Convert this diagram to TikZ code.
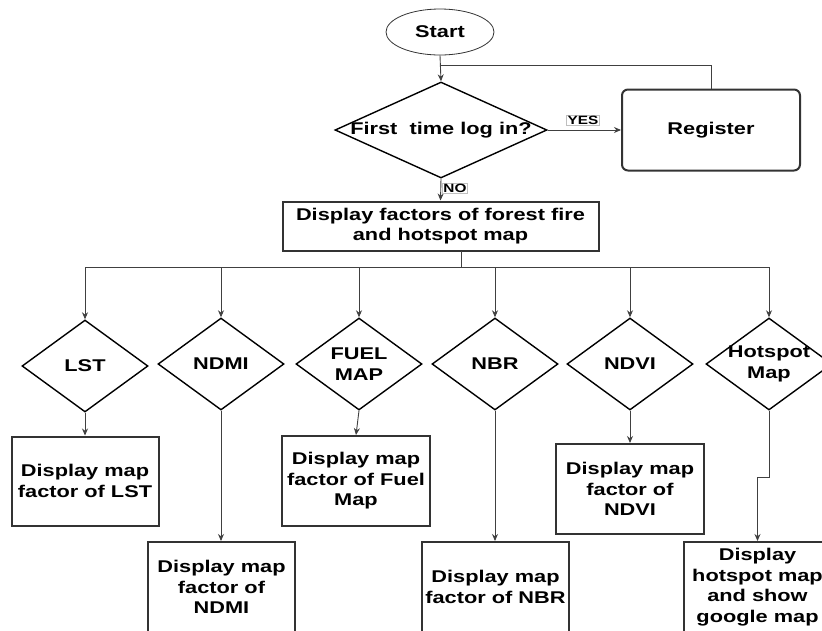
\documentclass[tikz,border=0pt]{standalone}
\usepackage{fontspec}
\setmainfont{Liberation Sans}[FakeStretch=1.28]
\usetikzlibrary{shapes.geometric,arrows.meta}

\tikzset{
  txt/.style={font=\bfseries\fontsize{17}{20.5}\selectfont, align=center},
  terminal/.style={ellipse, draw=black!80, line width=0.8pt, minimum width=108pt, minimum height=46pt, inner sep=0pt, txt},
  decision/.style={diamond, draw=black, line width=1.4pt, minimum width=126pt, minimum height=92pt, inner sep=0pt},
  process/.style={rectangle, draw=black!80, line width=2pt, inner sep=0pt, txt},
  flow/.style={draw=black!75, line width=0.9pt, -{Stealth[length=7pt,width=6pt]}},
  wire/.style={draw=black!75, line width=0.9pt},
  tag/.style={draw=black!25, line width=0.5pt, fill=white, inner sep=1pt, font=\bfseries\fontsize{12}{14}\selectfont}
}

\begin{document}
\begin{tikzpicture}[x=1pt, y=-1pt]
  \useasboundingbox (0,0) rectangle (822,630);
  \clip (0,0) rectangle (822,630);

  % start and login decision
  \node[terminal] (start) at (440,32) {Start};
  \node[decision, minimum width=212pt, minimum height=96pt] (login) at (441,130) {};
  \node[txt] at (login) {First\ \ time log in?};
  \node[process, rounded corners=6pt, minimum width=178pt, minimum height=81pt] (reg) at (711,130) {Register};

  \coordinate (join) at (441,65);
  \draw[flow] (start.south) -- (login.north);
  \draw[wire] (reg.north) |- (join);
  \draw[flow] (login.east) -- (reg.west);
  \node[tag] (yes) at (583,120) {YES};

  % overview screen
  \node[process, minimum width=316pt, minimum height=49pt] (disp) at (440.5,226)
    {Display factors of forest fire\\and hotspot map};
  \draw[flow] (login.south) -- (disp.north);
  \node[tag] (no) at (455,188) {NO};

  % factor decisions
  \node[decision] (lst)  at (85,366) {};
  \node[decision] (ndmi) at (221,364) {};
  \node[decision] (fuel) at (359,364) {};
  \node[decision] (nbr)  at (495,364) {};
  \node[decision] (ndvi) at (630,364) {};
  \node[decision] (hot)  at (769,364) {};
  \node[txt] at (lst) {LST};
  \node[txt] at (ndmi) {NDMI};
  \node[txt] at (fuel) {FUEL\\MAP};
  \node[txt] at (nbr) {NBR};
  \node[txt] at (ndvi) {NDVI};
  \node[txt] at (hot) {Hotspot\\Map};

  % distribution bus
  \coordinate (stem) at (461,251);
  \coordinate (bus) at (461,267);
  \draw[wire] (stem) -- (bus);
  \draw[wire] (lst.north |- bus) -- (hot.north |- bus);
  \foreach \d in {lst,ndmi,fuel,nbr,ndvi,hot}
    \draw[flow] (\d.north |- bus) -- (\d.north);

  % result screens
  \node[process, minimum width=147pt, minimum height=89pt] (blst)  at (85,481)   {Display map\\factor of LST};
  \node[process, minimum width=147pt, minimum height=90pt] (bndmi) at (221.5,587) {Display map\\factor of\\NDMI};
  \node[process, minimum width=148pt, minimum height=90pt] (bfuel) at (356,481)  {Display map\\factor of Fuel\\Map};
  \node[process, minimum width=147pt, minimum height=90pt] (bnbr)  at (495.5,587) {Display map\\factor of NBR};
  \node[process, minimum width=148pt, minimum height=90pt] (bndvi) at (630,489)  {Display map\\factor of\\NDVI};
  \node[process, minimum width=147pt, minimum height=90pt] (bhot)  at (757.5,587) {Display\\hotspot map\\and show\\google map};

  \draw[flow] (lst.south) -- (blst.north);
  \draw[flow] (ndmi.south) -- (ndmi.south |- bndmi.north);
  \draw[flow] (fuel.south) -- (bfuel.north);
  \draw[flow] (nbr.south) -- (nbr.south |- bnbr.north);
  \draw[flow] (ndvi.south) -- (bndvi.north);
  \coordinate (kink) at (769,477);
  \draw[flow] (hot.south) -- (kink) -| (bhot.north);
\end{tikzpicture}
\end{document}
